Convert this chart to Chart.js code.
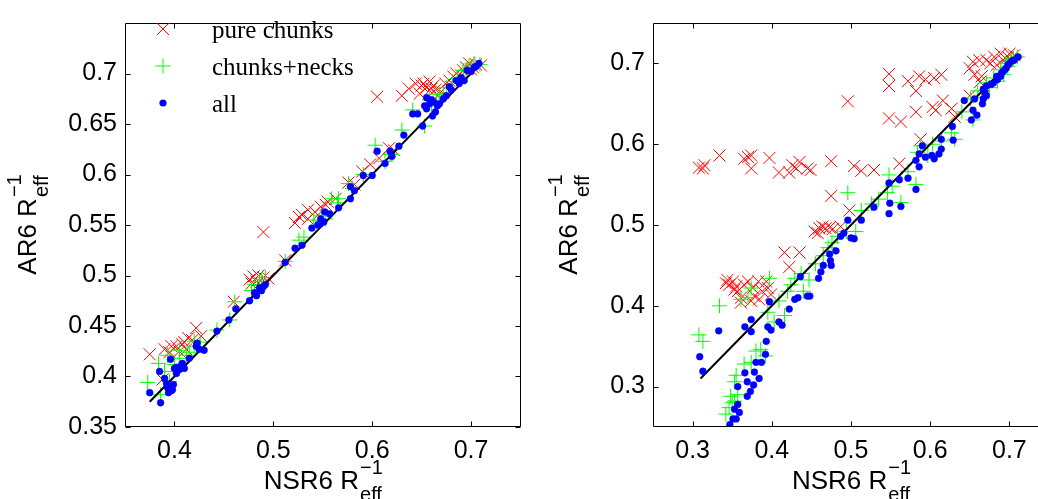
<!DOCTYPE html>
<html>
<head>
<meta charset="utf-8">
<script src="https://cdn.jsdelivr.net/npm/chart.js@4.4.1/dist/chart.umd.min.js"></script>
<style>
  html, body { margin: 0; padding: 0; background: #fff; overflow: hidden; }
  body { width: 1038px; height: 499px; position: relative; }
  .panel { position: absolute; top: 0; height: 499px; }
  #left { left: 0; width: 530px; }
  #right { left: 530px; width: 530px; }
</style>
</head>
<body>
<div class="panel" id="left"><canvas id="chartLeft" width="530" height="499"></canvas></div>
<div class="panel" id="right"><canvas id="chartRight" width="530" height="499"></canvas></div>
<script>
// legend labels
const seriesNames = ['pure chunks', 'chunks+necks', 'all'];

// axis ticks
const leftXTicks = [0.4, 0.5, 0.6, 0.7];
const leftYTicks = [0.35, 0.4, 0.45, 0.5, 0.55, 0.6, 0.65, 0.7];
const rightXTicks = [0.3, 0.4, 0.5, 0.6, 0.7];
const rightYTicks = [0.3, 0.4, 0.5, 0.6, 0.7];

// black reference lines (x = y)
const leftFit = [[0.375, 0.375], [0.71, 0.71]];
const rightFit = [[0.31, 0.31], [0.71, 0.71]];

// left panel
const leftPure = [
  [0.375,0.422],[0.388,0.397],[0.390,0.427],[0.397,0.430],[0.402,0.430],[0.408,0.432],[0.412,0.427],[0.414,0.438],
  [0.422,0.448],[0.427,0.440],[0.405,0.425],[0.418,0.436],[0.460,0.474],[0.476,0.496],[0.480,0.499],[0.485,0.500],
  [0.490,0.498],[0.495,0.497],[0.483,0.494],[0.478,0.492],[0.490,0.543],[0.512,0.515],[0.522,0.552],[0.526,0.558],
  [0.529,0.560],[0.535,0.556],[0.542,0.563],[0.548,0.568],[0.555,0.573],[0.563,0.576],[0.545,0.560],[0.576,0.592],
  [0.582,0.590],[0.590,0.603],[0.598,0.610],[0.605,0.677],[0.607,0.616],[0.617,0.626],[0.622,0.624],[0.630,0.678],
  [0.637,0.685],[0.644,0.690],[0.650,0.688],[0.655,0.686],[0.658,0.692],[0.662,0.688],[0.648,0.680],[0.664,0.684],
  [0.670,0.682],[0.678,0.693],[0.685,0.700],[0.690,0.698],[0.695,0.706],[0.700,0.704],[0.705,0.709],[0.710,0.708],
  [0.652,0.690],[0.660,0.685],[0.666,0.678],[0.674,0.690],[0.682,0.697],[0.692,0.703],[0.698,0.710],[0.702,0.706],
  [0.535,0.565],[0.553,0.570],[0.410,0.434],[0.395,0.424]
];
const leftNeck = [
  [0.373,0.394],[0.386,0.382],[0.384,0.413],[0.393,0.421],[0.400,0.412],[0.412,0.421],[0.405,0.418],[0.426,0.434],
  [0.420,0.430],[0.443,0.446],[0.456,0.456],[0.461,0.474],[0.481,0.491],[0.486,0.494],[0.492,0.498],[0.512,0.514],
  [0.526,0.535],[0.531,0.538],[0.541,0.555],[0.549,0.559],[0.559,0.576],[0.566,0.576],[0.576,0.591],[0.580,0.586],
  [0.591,0.600],[0.603,0.629],[0.613,0.613],[0.620,0.620],[0.630,0.644],[0.641,0.664],[0.653,0.648],[0.658,0.674],
  [0.668,0.679],[0.675,0.686],[0.681,0.692],[0.692,0.703],[0.698,0.708],[0.709,0.709],[0.395,0.395],[0.390,0.405],
  [0.660,0.668],[0.665,0.673],[0.672,0.680],[0.686,0.695],[0.695,0.704],[0.703,0.710],[0.547,0.554],[0.553,0.556],
  [0.488,0.496],[0.478,0.485],[0.405,0.426],[0.415,0.424],[0.420,0.435],[0.565,0.572],[0.618,0.620]
];
const leftAll = [
  [0.375,0.384],[0.386,0.374],[0.385,0.405],[0.390,0.398],[0.396,0.417],[0.393,0.389],[0.398,0.387],[0.400,0.408],
  [0.394,0.384],[0.397,0.386],[0.392,0.393],[0.402,0.403],[0.405,0.407],[0.407,0.411],[0.410,0.408],[0.415,0.418],
  [0.422,0.430],[0.423,0.433],[0.425,0.427],[0.430,0.426],[0.443,0.445],[0.455,0.456],[0.462,0.467],[0.476,0.475],
  [0.481,0.483],[0.486,0.488],[0.492,0.491],[0.512,0.513],[0.522,0.527],[0.529,0.530],[0.539,0.547],[0.547,0.551],
  [0.552,0.563],[0.557,0.561],[0.566,0.567],[0.578,0.588],[0.578,0.576],[0.591,0.599],[0.600,0.599],[0.605,0.623],
  [0.613,0.611],[0.618,0.623],[0.627,0.628],[0.632,0.639],[0.641,0.660],[0.646,0.660],[0.651,0.648],[0.653,0.668],
  [0.655,0.676],[0.660,0.674],[0.661,0.658],[0.666,0.668],[0.678,0.687],[0.685,0.693],[0.693,0.693],[0.696,0.703],
  [0.703,0.706],[0.708,0.710],
  [0.655,0.665],[0.658,0.670],[0.662,0.672],[0.664,0.662],[0.668,0.670],[0.672,0.675],[0.675,0.678],[0.680,0.684],
  [0.688,0.690],[0.690,0.696],[0.700,0.702],[0.705,0.707],[0.548,0.556],[0.551,0.553],[0.545,0.550],[0.483,0.480],
  [0.488,0.485],[0.490,0.489],[0.582,0.584],[0.620,0.618],[0.396,0.390],[0.399,0.392],[0.402,0.409],[0.408,0.413]
];

// right panel
const rightPure = [
  [0.308,0.571],[0.313,0.570],[0.315,0.574],[0.334,0.586],[0.365,0.582],[0.370,0.584],[0.374,0.586],[0.374,0.570],
  [0.397,0.583],[0.409,0.565],[0.422,0.565],[0.426,0.574],[0.431,0.570],[0.435,0.578],[0.445,0.570],[0.449,0.568],
  [0.475,0.579],[0.504,0.573],[0.513,0.567],[0.529,0.568],[0.561,0.576],[0.496,0.653],[0.548,0.687],[0.548,0.672],
  [0.548,0.632],[0.563,0.628],[0.572,0.678],[0.582,0.666],[0.582,0.640],[0.586,0.684],[0.594,0.680],[0.603,0.646],
  [0.607,0.642],[0.605,0.682],[0.614,0.686],[0.616,0.654],[0.627,0.644],[0.631,0.634],[0.650,0.694],[0.654,0.702],
  [0.662,0.704],[0.671,0.704],[0.656,0.686],[0.665,0.684],[0.663,0.677],[0.668,0.672],[0.681,0.708],[0.689,0.712],
  [0.698,0.708],[0.706,0.710],[0.588,0.606],[0.650,0.660],[0.475,0.536],[0.498,0.518],[0.416,0.466],[0.435,0.466],
  [0.422,0.448],[0.454,0.492],[0.458,0.490],[0.460,0.496],[0.464,0.498],[0.468,0.496],[0.473,0.497],[0.477,0.495],
  [0.487,0.498],[0.342,0.428],[0.344,0.432],[0.346,0.426],[0.351,0.430],[0.353,0.420],[0.355,0.424],[0.357,0.418],
  [0.361,0.410],[0.361,0.404],[0.365,0.426],[0.370,0.430],[0.374,0.406],[0.376,0.422],[0.378,0.412],[0.383,0.430],
  [0.384,0.408],[0.388,0.418],[0.393,0.430],[0.395,0.422],[0.399,0.414],
  [0.676,0.700],[0.692,0.704],[0.700,0.712],[0.684,0.698]
];
const rightNeck = [
  [0.308,0.364],[0.313,0.356],[0.334,0.400],[0.361,0.408],[0.370,0.410],[0.374,0.422],[0.397,0.434],[0.395,0.392],
  [0.403,0.380],[0.386,0.346],[0.380,0.344],[0.392,0.338],[0.365,0.328],[0.374,0.330],[0.355,0.314],[0.348,0.288],
  [0.353,0.282],[0.342,0.266],[0.346,0.274],[0.357,0.290],[0.353,0.306],[0.350,0.280],[0.409,0.406],[0.416,0.388],
  [0.420,0.418],[0.424,0.426],[0.429,0.434],[0.437,0.440],[0.447,0.432],[0.455,0.452],[0.471,0.472],[0.483,0.486],
  [0.494,0.492],[0.506,0.492],[0.496,0.540],[0.513,0.518],[0.526,0.526],[0.535,0.532],[0.548,0.562],[0.546,0.540],
  [0.563,0.528],[0.572,0.566],[0.582,0.550],[0.584,0.590],[0.588,0.598],[0.597,0.586],[0.614,0.604],[0.627,0.614],
  [0.631,0.606],[0.651,0.656],[0.654,0.630],[0.665,0.658],[0.671,0.676],[0.685,0.678],[0.689,0.692],[0.698,0.696],
  [0.702,0.704],[0.710,0.708],[0.465,0.462],[0.476,0.478],[0.440,0.418],[0.552,0.548],[0.603,0.600],[0.640,0.640],
  [0.660,0.666],[0.693,0.686],[0.680,0.682],[0.695,0.700],[0.705,0.706],[0.675,0.670]
];
const rightAll = [
  [0.309,0.337],[0.313,0.319],[0.333,0.369],[0.347,0.253],[0.351,0.260],[0.355,0.260],[0.353,0.272],[0.359,0.268],
  [0.357,0.278],[0.357,0.300],[0.366,0.317],[0.369,0.288],[0.373,0.294],[0.369,0.306],[0.377,0.302],[0.378,0.318],
  [0.384,0.310],[0.380,0.330],[0.387,0.330],[0.392,0.340],[0.393,0.356],[0.395,0.374],[0.399,0.370],[0.366,0.374],
  [0.374,0.368],[0.374,0.383],[0.397,0.405],[0.409,0.380],[0.413,0.376],[0.422,0.396],[0.429,0.408],[0.433,0.410],
  [0.436,0.436],[0.445,0.412],[0.448,0.412],[0.459,0.434],[0.462,0.442],[0.465,0.450],[0.473,0.464],[0.474,0.456],
  [0.475,0.450],[0.481,0.468],[0.487,0.486],[0.491,0.490],[0.496,0.506],[0.500,0.484],[0.504,0.483],[0.513,0.506],
  [0.529,0.522],[0.548,0.552],[0.549,0.527],[0.548,0.514],[0.561,0.556],[0.563,0.523],[0.572,0.558],[0.582,0.544],
  [0.586,0.572],[0.582,0.580],[0.586,0.588],[0.590,0.598],[0.594,0.584],[0.602,0.586],[0.605,0.582],[0.611,0.588],
  [0.614,0.606],[0.614,0.594],[0.628,0.622],[0.629,0.605],[0.643,0.654],[0.654,0.642],[0.652,0.630],[0.659,0.636],
  [0.656,0.656],[0.667,0.656],[0.666,0.650],[0.671,0.660],[0.667,0.668],[0.671,0.672],[0.677,0.674],[0.685,0.680],
  [0.689,0.684],[0.692,0.690],[0.696,0.694],[0.698,0.698],[0.706,0.704],[0.711,0.708],
  [0.680,0.676],[0.684,0.684],[0.690,0.688],[0.694,0.692],[0.700,0.700],[0.703,0.703],[0.669,0.664]
];

const SANS = '"Liberation Sans", Arial, Helvetica, sans-serif';
const SERIF = '"Liberation Serif", "Times New Roman", serif';
const RED = '#ff0000', GREEN = '#00ff00', BLUE = '#0000ff';

const toXY = arr => arr.map(p => ({ x: p[0], y: p[1] }));

// axis label like "AR6 R" with stacked superscript and subscript
function drawRich(ctx, x, y, main, sub, sup, rotate) {
  ctx.save();
  ctx.translate(x, y);
  if (rotate) ctx.rotate(-Math.PI / 2);
  ctx.fillStyle = '#000';
  ctx.textAlign = 'left';
  ctx.textBaseline = 'alphabetic';
  ctx.font = '26px ' + SANS;
  const wMain = ctx.measureText(main).width;
  ctx.font = '20px ' + SANS;
  const wExtra = Math.max(ctx.measureText(sub).width, ctx.measureText(sup).width);
  const x0 = -(wMain + wExtra) / 2;
  ctx.font = '26px ' + SANS;
  ctx.fillText(main, x0, 0);
  ctx.font = '20px ' + SANS;
  ctx.fillText(sub, x0 + wMain + 1, 12);
  ctx.fillText(sup, x0 + wMain + 1, -15);
  ctx.restore();
}

function drawMarker(ctx, kind, x, y) {
  ctx.save();
  ctx.lineWidth = 1;
  if (kind === 0) {
    const d = 6;
    ctx.strokeStyle = RED;
    ctx.beginPath();
    ctx.moveTo(x - d, y - d); ctx.lineTo(x + d, y + d);
    ctx.moveTo(x - d, y + d); ctx.lineTo(x + d, y - d);
    ctx.stroke();
  } else if (kind === 1) {
    const d = 7.5;
    ctx.strokeStyle = GREEN;
    ctx.beginPath();
    ctx.moveTo(x - d, y); ctx.lineTo(x + d, y);
    ctx.moveTo(x, y - d); ctx.lineTo(x, y + d);
    ctx.stroke();
  } else {
    ctx.fillStyle = BLUE;
    ctx.beginPath();
    ctx.arc(x, y, 3.6, 0, Math.PI * 2);
    ctx.fill();
  }
  ctx.restore();
}

const framePlugin = {
  id: 'frame',
  afterDraw(chart, args, opts) {
    const { ctx, chartArea: a } = chart;
    const sx = chart.scales.x, sy = chart.scales.y;
    const L = Math.round(a.left) + 0.5, R = Math.round(a.right) - 0.5;
    const T = Math.round(a.top) + 0.5, B = Math.round(a.bottom) - 0.5;
    ctx.save();
    ctx.strokeStyle = '#000';
    ctx.lineWidth = 1;
    ctx.beginPath();
    ctx.rect(L, T, R - L, B - T);
    const tl = 5;
    opts.xTicks.forEach(v => {
      const p = Math.round(sx.getPixelForValue(v)) + 0.5;
      ctx.moveTo(p, B); ctx.lineTo(p, B - tl);
      ctx.moveTo(p, T); ctx.lineTo(p, T + tl);
    });
    opts.yTicks.forEach(v => {
      const p = Math.round(sy.getPixelForValue(v)) + 0.5;
      ctx.moveTo(L, p); ctx.lineTo(L + tl, p);
      ctx.moveTo(R, p); ctx.lineTo(R - tl, p);
    });
    ctx.stroke();
    ctx.restore();

    const cx = (a.left + a.right) / 2, cy = (a.top + a.bottom) / 2;
    drawRich(ctx, cx, 489, 'NSR6 R', 'eff', '\u22121', false);
    drawRich(ctx, opts.yTitleX, cy, 'AR6 R', 'eff', '\u22121', true);

    if (opts.legend) {
      const rows = [29, 66, 103];
      ctx.save();
      ctx.fillStyle = '#000';
      ctx.font = '25px ' + SERIF;
      ctx.textBaseline = 'alphabetic';
      seriesNames.forEach((name, i) => {
        drawMarker(ctx, i, 163, rows[i]);
        ctx.fillText(name, 212, rows[i] + 9);
      });
      ctx.restore();
    }
  }
};

function makeChart(id, cfg) {
  const datasets = [
    { type: 'scatter', label: seriesNames[2], data: toXY(cfg.all), order: 0,
      pointStyle: 'circle', pointRadius: 3.4, pointBorderWidth: 0.5,
      backgroundColor: BLUE, borderColor: BLUE,
      pointBackgroundColor: BLUE, pointBorderColor: BLUE },
    { type: 'line', label: 'fit', data: toXY(cfg.fit), order: 1,
      borderColor: '#000', borderWidth: 2, pointRadius: 0, fill: false },
    { type: 'scatter', label: seriesNames[1], data: toXY(cfg.neck), order: 2,
      pointStyle: 'cross', pointRadius: 7.5, pointBorderWidth: 1,
      borderColor: GREEN, backgroundColor: GREEN,
      pointBorderColor: GREEN, pointBackgroundColor: GREEN },
    { type: 'scatter', label: seriesNames[0], data: toXY(cfg.pure), order: 3,
      pointStyle: 'crossRot', pointRadius: 8.5, pointBorderWidth: 1,
      borderColor: RED, backgroundColor: RED,
      pointBorderColor: RED, pointBackgroundColor: RED }
  ];
  return new Chart(document.getElementById(id), {
    type: 'scatter',
    data: { datasets },
    plugins: [framePlugin],
    options: {
      responsive: false,
      animation: false,
      events: [],
      layout: { padding: { top: 10, right: cfg.padRight, left: 0, bottom: 0 } },
      scales: {
        x: {
          type: 'linear', min: cfg.xMin, max: 0.75,
          grid: { display: false, drawTicks: false },
          border: { display: false },
          afterBuildTicks: s => { s.ticks = cfg.xTicks.map(v => ({ value: v })); },
          afterFit: s => { s.height = 72; },
          ticks: {
            autoSkip: false, maxRotation: 0, padding: 9, color: '#000',
            font: { family: SANS, size: 25 },
            callback: v => String(v)
          }
        },
        y: {
          type: 'linear', min: cfg.yMin, max: 0.75,
          grid: { display: false, drawTicks: false },
          border: { display: false },
          afterBuildTicks: s => { s.ticks = cfg.yTicks.map(v => ({ value: v })); },
          afterFit: s => { s.width = cfg.yWidth; },
          ticks: {
            autoSkip: false, padding: 8, color: '#000',
            font: { family: SANS, size: 25 },
            callback: v => String(v)
          }
        }
      },
      plugins: {
        legend: { display: false },
        tooltip: { enabled: false },
        frame: { xTicks: cfg.xTicks, yTicks: cfg.yTicks, yTitleX: cfg.yTitleX, legend: cfg.legend }
      }
    }
  });
}

makeChart('chartLeft', {
  pure: leftPure, neck: leftNeck, all: leftAll, fit: leftFit,
  xMin: 0.35, yMin: 0.35, xTicks: leftXTicks, yTicks: leftYTicks,
  yWidth: 125, padRight: 7, yTitleX: 36, legend: true
});
makeChart('chartRight', {
  pure: rightPure, neck: rightNeck, all: rightAll, fit: rightFit,
  xMin: 0.25, yMin: 0.25, xTicks: rightXTicks, yTicks: rightYTicks,
  yWidth: 123, padRight: 11, yTitleX: 47, legend: false
});
</script>
</body>
</html>
